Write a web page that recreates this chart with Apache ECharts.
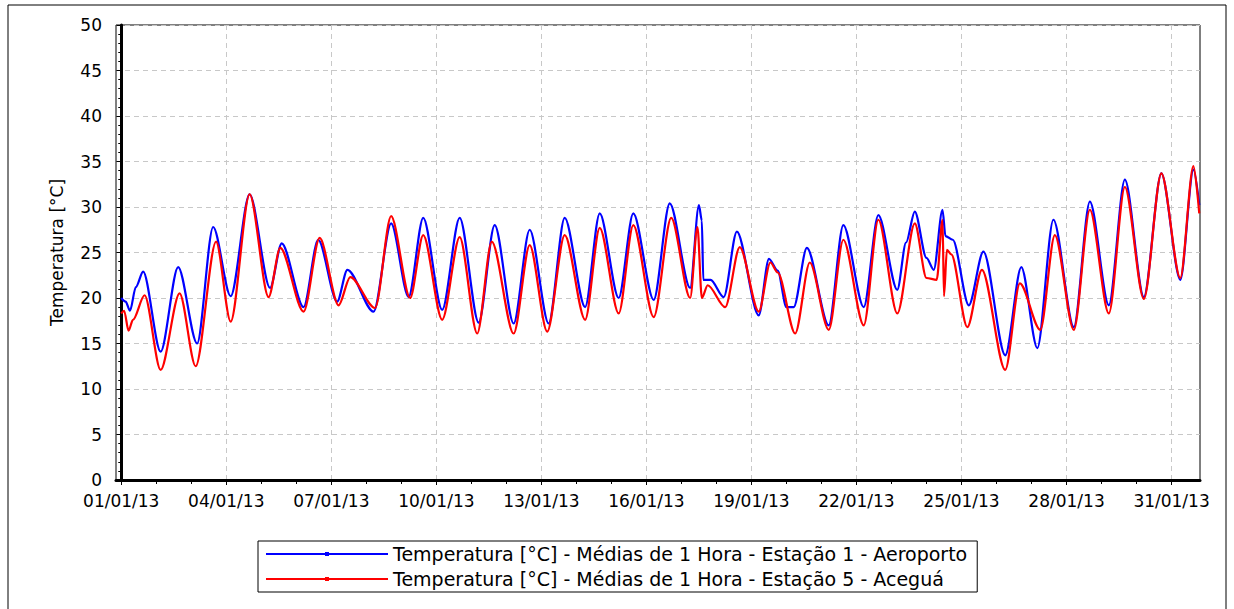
<!DOCTYPE html>
<html>
<head>
<meta charset="utf-8">
<script src="https://cdn.jsdelivr.net/npm/echarts@6/dist/echarts.min.js"></script>
<style>
html,body{margin:0;padding:0;background:#fff;}
#c{width:1234px;height:609px;}
</style>
</head>
<body>
<div id="c"></div>
<script>
// x positions are hours since 01/01/13 00:00
const xTickHours = [0, 72, 144, 216, 288, 360, 432, 504, 576, 648, 720];
const xTickLabels = ['01/01/13','04/01/13','07/01/13','10/01/13','13/01/13','16/01/13','19/01/13','22/01/13','25/01/13','28/01/13','31/01/13'];
const dayTickHours = [0,24,48,72,96,120,144,168,192,216,240,264,288,312,336,360,384,408,432,456,480,504,528,552,576,600,624,648,672,696,720];

const seriesNames = [
  'Temperatura [°C] - Médias de 1 Hora - Estação 1 - Aeroporto',
  'Temperatura [°C] - Médias de 1 Hora - Estação 5 - Aceguá'
];

const blueHours = [0,3,6,10,15,27,39,52,63,75,88,102,110,125,135,148,155,173,185,197,207,220,232,245,256,269,280,293,304,318,328,341,351,365,376,390,396,398,399,404,413,422,437,444,450,456,461,470,485,495,509,519,532,538,544,552,557,563,565,570,581,591,606,617,628,639,653,664,677,688,701,713,726,735,739];
const blueTemps = [20.0,19.6,18.6,21.2,22.9,14.1,23.4,15.0,27.8,20.2,31.4,21.1,26.0,19.0,26.4,19.6,23.1,18.5,28.2,20.1,28.8,18.7,28.8,17.3,28.0,17.2,27.5,17.2,28.8,19.0,29.3,20.0,29.3,19.8,30.4,21.1,30.2,28.5,22.0,22.0,20.1,27.3,18.1,24.3,23.0,19.0,19.0,25.5,17.0,28.0,19.0,29.1,20.9,26.1,29.5,24.4,23.1,29.7,26.8,26.4,19.2,25.1,13.7,23.4,14.5,28.6,16.8,30.6,19.2,33.0,20.1,33.7,22.0,34.1,30.2];

const redHours = [0,2,5,8,16,27,40,51,65,75,88,101,109,125,136,149,157,174,185,198,207,220,232,244,254,269,280,292,304,318,328,341,351,365,377,390,395,398,402,414,424,437,445,450,462,472,485,495,509,519,532,544,552,559,563,564,566,569,580,590,606,616,630,640,653,664,677,688,701,713,726,735,739];
const redTemps = [18.3,18.6,16.4,17.6,20.3,12.1,20.5,12.5,26.2,17.4,31.4,20.1,25.5,18.5,26.6,19.2,22.3,18.9,29.0,20.0,26.9,17.6,26.7,16.1,26.2,16.1,25.8,16.3,26.9,17.6,27.7,18.3,28.0,17.9,28.8,20.0,27.8,20.0,21.4,19.0,25.6,18.5,23.9,22.8,16.1,23.9,16.5,26.4,17.0,28.6,18.3,28.2,22.2,22.0,28.6,20.2,25.3,24.8,16.8,23.1,12.1,21.6,16.5,26.9,16.5,29.7,18.3,32.2,19.9,33.7,22.2,34.5,29.3];

const blueData = blueHours.map((h, i) => [h, blueTemps[i]]);
const redData = redHours.map((h, i) => [h, redTemps[i]]);

const chart = echarts.init(document.getElementById('c'), null, {renderer: 'svg'});
const font = 'DejaVu Sans';
const option = {
  animation: false,
  backgroundColor: '#fff',
  textStyle: {fontFamily: font},
  graphic: [{
    type: 'rect', silent: true, z: 100,
    shape: {x: 8, y: 5, width: 1218, height: 640},
    style: {fill: 'none', stroke: '#000', lineWidth: 1}
  }],
  grid: {left: 116, right: 34, top: 25, bottom: 129, show: true, borderColor: '#000', borderWidth: 1, backgroundColor: 'transparent'},
  legend: {
    orient: 'vertical', left: 258, top: 541,
    padding: [3, 10, 3, 7], itemGap: 5, itemWidth: 122, itemHeight: 5,
    backgroundColor: '#fff', borderColor: '#000', borderWidth: 1,
    textStyle: {fontFamily: font, fontSize: 19, color: '#000', lineHeight: 20},
    data: seriesNames
  },
  xAxis: [{
    type: 'value', min: -3.6, max: 739.5,
    axisLine: {show: true, onZero: false, lineStyle: {color: '#000', width: 3}},
    axisTick: {show: true, customValues: xTickHours, length: 5, lineStyle: {color: '#000'}},
    axisLabel: {customValues: xTickHours, fontFamily: font, fontSize: 17, color: '#000', margin: 12,
      formatter: v => { const i = xTickHours.indexOf(v); return i >= 0 ? xTickLabels[i] : ''; }},
    splitLine: {show: true, lineStyle: {type: [5, 4], color: '#c8c8c8', width: 1}}
  }, {
    type: 'value', min: -3.6, max: 739.5, position: 'bottom', offset: 0, gridIndex: 0,
    axisLine: {show: false},
    axisTick: {show: true, customValues: dayTickHours, length: 4, lineStyle: {color: '#000'}},
    axisLabel: {show: false},
    splitLine: {show: false}
  }],
  yAxis: {
    type: 'value', min: 0, max: 50, interval: 5,
    name: 'Temperatura [°C]', nameLocation: 'middle', nameGap: 51,
    nameTextStyle: {fontFamily: font, fontSize: 17, color: '#000'},
    axisLine: {show: true, lineStyle: {color: '#000', width: 3}},
    axisTick: {show: true, length: 5, lineStyle: {color: '#000'}},
    minorTick: {show: true, splitNumber: 5, length: 3, lineStyle: {color: '#000'}},
    axisLabel: {fontFamily: font, fontSize: 17, color: '#000', margin: 14},
    splitLine: {show: true, lineStyle: {type: [5, 4], color: '#c8c8c8', width: 1}}
  },
  series: [{
    name: seriesNames[0], type: 'line', data: blueData,
    showSymbol: false, symbol: 'rect', symbolSize: 3,
    smooth: 0.3, smoothMonotone: 'x',
    lineStyle: {color: '#0000ff', width: 2.2}, itemStyle: {color: '#0000ff'}
  }, {
    name: seriesNames[1], type: 'line', data: redData,
    showSymbol: false, symbol: 'rect', symbolSize: 3,
    smooth: 0.3, smoothMonotone: 'x',
    lineStyle: {color: '#ff0000', width: 2.2}, itemStyle: {color: '#ff0000'}
  }]
};
chart.setOption(option);
</script>
</body>
</html>
